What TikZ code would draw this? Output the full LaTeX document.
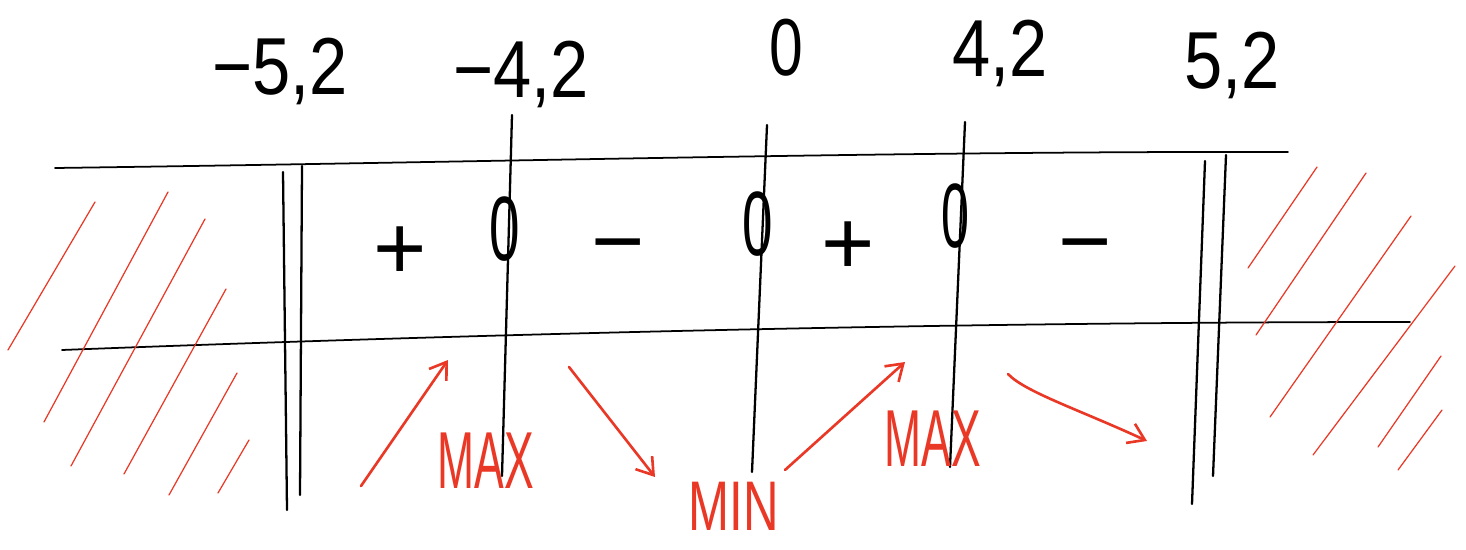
\documentclass[tikz,border=0pt]{standalone}
\usepackage{fontspec}
\setmainfont{Liberation Sans}
\usetikzlibrary{arrows.meta}
\definecolor{hred}{RGB}{234,56,38}
\begin{document}
\begin{tikzpicture}[x=0.02cm,y=-0.02cm,
  ink/.style={line width=1.3pt, line cap=round, line join=round},
  hline/.style={line width=1pt, line cap=round},
  hatch/.style={draw=hred, line width=0.7pt, line cap=round},
  arr/.style={draw=hred, line width=1.5pt, line cap=round, -{Straight Barb[length=9pt,width=12pt,line width=1.5pt]}},
  lbl/.style={inner sep=0pt, text height=33pt, text depth=0pt, font=\fontsize{46}{46}\selectfont},
  sgn/.style={inner sep=0pt, text height=37pt, text depth=0pt, font=\fontsize{52}{52}\selectfont},
  rlbl/.style={inner sep=0pt, text=hred, text height=33pt, text depth=0pt, font=\fontsize{46}{46}\selectfont}]
\useasboundingbox (0,0) rectangle (1466,550);

% top labels
\node[lbl] (lm52) at (280,66) {\scalebox{0.85}[1]{−5,2}};
\node[lbl] (lm42) at (521,69) {\scalebox{0.85}[1]{−4,2}};
\node[lbl] (l0)   at (786,47) {\scalebox{0.75}[1]{0}};
\node[lbl] (l42)  at (1000,48) {\scalebox{0.85}[1]{4,2}};
\node[lbl] (l52)  at (1232,60) {\scalebox{0.85}[1]{5,2}};

% horizontal lines
\coordinate (tl) at (55,168);
\coordinate (tr) at (1288,152);
\coordinate (bl) at (62,350);
\coordinate (br) at (1410,322);
\draw[hline] (tl) .. controls (500,162) and (900,151) .. (tr);
\draw[hline] (bl) .. controls (400,337) and (900,322) .. (br);

% double lines (domain bounds)
\coordinate (a1t) at (283,172); \coordinate (a1b) at (287,510);
\coordinate (a2t) at (302,166); \coordinate (a2b) at (300,495);
\coordinate (b1t) at (1205,161); \coordinate (b1b) at (1192,504);
\coordinate (b2t) at (1226,155); \coordinate (b2b) at (1213,476);
\draw[ink] (a1t) -- (a1b);
\draw[ink] (a2t) -- (a2b);
\draw[ink] (b1t) -- (b1b);
\draw[ink] (b2t) -- (b2b);

% sign row
\node[sgn] (p1) at (400,247) {+};
\node[sgn] (z1) at (505,228) {\scalebox{0.6}[1]{0}};
\node[sgn] (m1) at (618,240) {−};
\node[sgn] (z2) at (758,223) {\scalebox{0.6}[1]{0}};
\node[sgn] (p2) at (848,242) {+};
\node[sgn] (z3) at (955,215) {\scalebox{0.55}[1]{0}};
\node[sgn] (m2) at (1085,240) {−};

% vertical lines through zeros
\coordinate (v1t) at (512,115); \coordinate (v1b) at (502,476);
\coordinate (v2t) at (767,125); \coordinate (v2b) at (752,472);
\coordinate (v3t) at (965,122); \coordinate (v3b) at (950,467);
\draw[ink] (v1t) -- (v1b);
\draw[ink] (v2t) -- (v2b);
\draw[ink] (v3t) -- (v3b);

% hatching left
\draw[hatch] (8,350) -- (95,202);
\draw[hatch] (44,422) -- (168,192);
\draw[hatch] (71,466) -- (205,219);
\draw[hatch] (124,474) -- (226,289);
\draw[hatch] (169,495) -- (237,373);
\draw[hatch] (218,493) -- (249,440);
% hatching right
\draw[hatch] (1248,268) -- (1317,167);
\draw[hatch] (1256,335) -- (1366,173);
\draw[hatch] (1270,417) -- (1411,216);
\draw[hatch] (1313,455) -- (1455,266);
\draw[hatch] (1378,447) -- (1441,356);
\draw[hatch] (1398,470) -- (1442,410);

% red arrows
\coordinate (r1s) at (361,486); \coordinate (r1e) at (448,360);
\coordinate (r2s) at (569,367); \coordinate (r2e) at (655,477);
\coordinate (r3s) at (785,470); \coordinate (r3e) at (905,362);
\coordinate (r4s) at (1008,374); \coordinate (r4e) at (1147,441);
\draw[arr] (r1s) -- (r1e);
\draw[arr] (r2s) -- (r2e);
\draw[arr] (r3s) -- (r3e);
\draw[arr] (r4s) .. controls (1025,392) and (1080,410) .. (r4e);

% red labels
\node[rlbl] (max1) at (486,460) {\scalebox{0.55}[1]{MAX}};
\node[rlbl, text height=29pt, font=\fontsize{40}{40}\selectfont] (min) at (734,505) {\scalebox{0.7}[1]{MIN}};
\node[rlbl] (max2) at (933,438) {\scalebox{0.55}[1]{MAX}};
\end{tikzpicture}
\end{document}
